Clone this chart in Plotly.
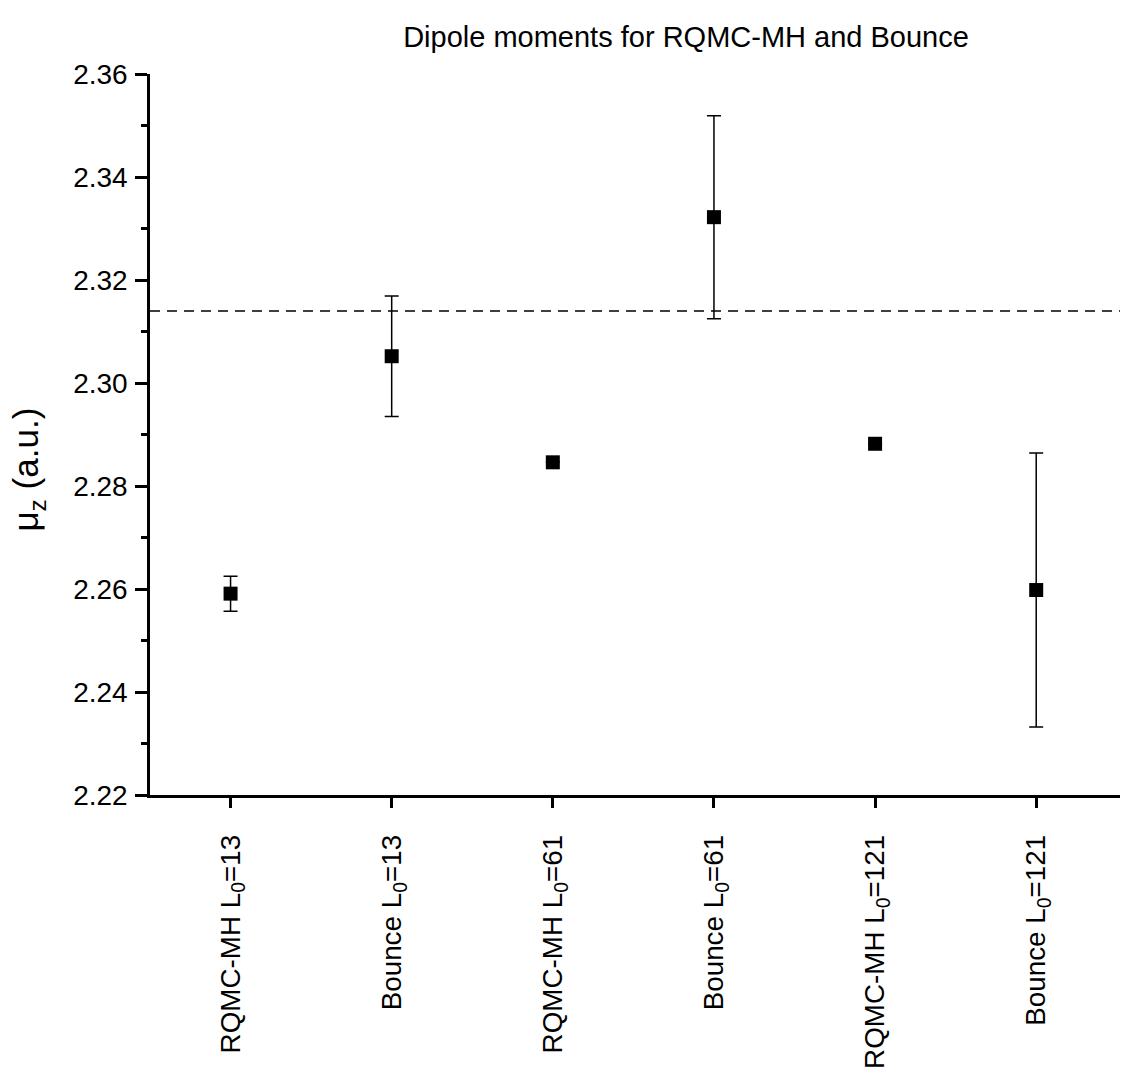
import plotly.graph_objects as go

categories = ["RQMC-MH L<sub>0</sub>=13", "Bounce L<sub>0</sub>=13",
              "RQMC-MH L<sub>0</sub>=61", "Bounce L<sub>0</sub>=61",
              "RQMC-MH L<sub>0</sub>=121", "Bounce L<sub>0</sub>=121"]
positions = [1, 2, 3, 4, 5, 6]
dipole = [2.2591, 2.3052, 2.2846, 2.3322, 2.2882, 2.2598]
errors = [0.0034, 0.0117, 0.0, 0.0197, 0.0, 0.0266]
reference_value = 2.3140
y_ticks = [2.22, 2.24, 2.26, 2.28, 2.30, 2.32, 2.34, 2.36]
y_tick_labels = ["2.22", "2.24", "2.26", "2.28", "2.30", "2.32", "2.34", "2.36"]

FONT = "Liberation Sans, Arial, sans-serif"

fig = go.Figure()
fig.add_trace(go.Scatter(
    x=positions, y=dipole, mode="markers",
    marker=dict(symbol="square", size=14, color="black"),
    error_y=dict(type="data", array=errors, visible=True,
                 color="black", thickness=1.5, width=7),
    showlegend=False, cliponaxis=False,
))

fig.add_shape(type="line", xref="paper", yref="y", x0=0, x1=1,
              y0=reference_value, y1=reference_value,
              line=dict(color="black", width=1.5, dash="10px,7px"))

fig.add_annotation(text="μ<sub>z</sub> (a.u.)", textangle=-90,
                   xref="paper", yref="paper",
                   x=(28 - 150) / 970, y=(795 - 470) / 720,
                   xanchor="center", yanchor="middle", showarrow=False,
                   font=dict(size=35, family=FONT, color="black"))

fig.update_layout(
    width=1122, height=1076,
    margin=dict(l=150, r=2, t=74, b=281, autoexpand=False),
    paper_bgcolor="white", plot_bgcolor="white",
    font=dict(family=FONT, size=28, color="black"),
    title=dict(text="Dipole moments for RQMC-MH and Bounce",
               x=686 / 1122, xref="container", xanchor="center",
               y=1 - 37 / 1076, yref="container", yanchor="middle",
               font=dict(size=29)),
    xaxis=dict(range=[0.5, 6.52], tickvals=positions, ticktext=categories,
               tickangle=-90, showgrid=False, zeroline=False, automargin=False,
               showline=True, linecolor="black", linewidth=2.5,
               ticks="outside", ticklen=10, tickwidth=2.5, tickcolor="black",
               ticklabelstandoff=16,
               tickfont=dict(size=27.8)),
    yaxis=dict(range=[2.22, 2.36], tickvals=y_ticks, ticktext=y_tick_labels,
               showgrid=False, zeroline=False, automargin=False,
               showline=True, linecolor="black", linewidth=2.5,
               ticks="outside", ticklen=12, tickwidth=2.5, tickcolor="black",
               ticklabelstandoff=2,
               tickfont=dict(size=28),
               minor=dict(dtick=0.01, ticks="outside", ticklen=6,
                          tickwidth=2.5, tickcolor="black", showgrid=False)),
)

fig.write_html("out.html")
